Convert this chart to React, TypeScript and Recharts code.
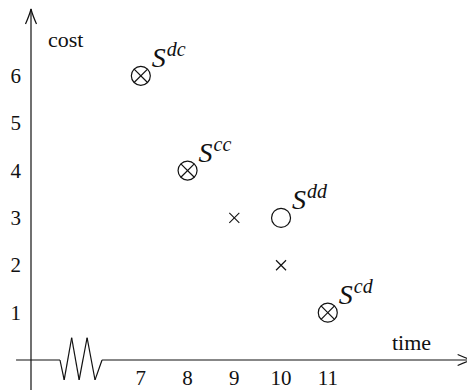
import React from "react"
import {
  ScatterChart,
  Scatter,
  XAxis,
  YAxis,
  ReferenceLine,
  Customized,
} from "recharts"

// labelled strategy points
const strategyTimes = [7, 8, 10, 11]
const strategyCosts = [6, 4, 3, 1]
const strategyNames = ["dc", "cc", "dd", "cd"]
const strategyMarks = ["otimes", "otimes", "circle", "otimes"]

// unlabelled points (crosses)
const crossTimes = [9, 10]
const crossCosts = [3, 2]

const xTicks = [7, 8, 9, 10, 11]
const yTicks = [1, 2, 3, 4, 5, 6]

const X_DOMAIN = [4.65, 14.15]
const Y_DOMAIN = [0, 7.6]

// x axis with a broken section (zigzag) near the origin
const xAxisPath: [number, number][] = [
  [4.33, 0],
  [5.27, 0],
  [5.36, -0.42],
  [5.52, 0.47],
  [5.68, -0.42],
  [5.85, 0.47],
  [6.02, -0.42],
  [6.17, 0],
  [14.1, 0],
]
const yAxisPath: [number, number][] = [
  [4.65, -0.64],
  [4.65, 7.41],
]

const INK = "#111"
const SERIF = "Liberation Serif"

// force the serif face on every svg text node of the chart
const fontRule = `.plot text, .plot tspan { font-family: "Liberation Serif" !important; }`

const strategyData = strategyTimes.map((t, i) => ({
  x: t,
  y: strategyCosts[i],
  sup: strategyNames[i],
  mark: strategyMarks[i],
}))
const crossData = crossTimes.map((t, i) => ({ x: t, y: crossCosts[i] }))

const R = 9.5

function StrategyMark(props: any) {
  const { cx, cy, payload } = props
  const d = R * 0.707
  return (
    <g>
      <circle cx={cx} cy={cy} r={R} fill="none" stroke={INK} strokeWidth={1.2} />
      {payload.mark === "otimes" && (
        <g stroke={INK} strokeWidth={1.2}>
          <line x1={cx - d} y1={cy - d} x2={cx + d} y2={cy + d} />
          <line x1={cx - d} y1={cy + d} x2={cx + d} y2={cy - d} />
        </g>
      )}
      <text
        x={cx + 11}
        y={cy - 9}
        fontFamily={SERIF}
        fontStyle="italic"
        fontSize={28}
        fill={INK}
        style={{ fontFamily: SERIF }}
      >
        S
        <tspan fontSize={20} dy={-11} dx={1}>
          {payload.sup}
        </tspan>
      </text>
    </g>
  )
}

function CrossMark(props: any) {
  const { cx, cy } = props
  const h = 5
  return (
    <g stroke={INK} strokeWidth={1.1}>
      <line x1={cx - h} y1={cy - h} x2={cx + h} y2={cy + h} />
      <line x1={cx - h} y1={cy + h} x2={cx + h} y2={cy - h} />
    </g>
  )
}

function XTick(props: any) {
  const { x, y, payload } = props
  return (
    <text x={x} y={y + 17} textAnchor="middle" fontFamily={SERIF} fontSize={21} fill={INK} style={{ fontFamily: SERIF }}>
      {payload.value}
    </text>
  )
}

function YTick(props: any) {
  const { x, y, payload } = props
  return (
    <text x={x} y={y + 7} textAnchor="end" fontFamily={SERIF} fontSize={21} fill={INK} style={{ fontFamily: SERIF }}>
      {payload.value}
    </text>
  )
}

function plainSegment(props: any) {
  const { x1, y1, x2, y2 } = props
  return <line x1={x1} y1={y1} x2={x2} y2={y2} stroke={INK} strokeWidth={1.2} />
}

function arrowSegment(props: any) {
  const { x1, y1, x2, y2 } = props
  const len = Math.hypot(x2 - x1, y2 - y1) || 1
  const ux = (x2 - x1) / len
  const uy = (y2 - y1) / len
  const nx = -uy
  const ny = ux
  const back = 15
  const half = 5.5
  const bx = x2 - ux * back
  const by = y2 - uy * back
  const cx1 = x2 - ux * 6 + nx * 1.5
  const cy1 = y2 - uy * 6 + ny * 1.5
  const cx2 = x2 - ux * 6 - nx * 1.5
  const cy2 = y2 - uy * 6 - ny * 1.5
  return (
    <g stroke={INK} strokeWidth={1.2} fill="none">
      <line x1={x1} y1={y1} x2={x2} y2={y2} />
      <path
        d={`M${bx + nx * half},${by + ny * half} Q${cx1},${cy1} ${x2},${y2} Q${cx2},${cy2} ${bx - nx * half},${by - ny * half}`}
      />
    </g>
  )
}

function AxisTitles() {
  return (
    <g>
      <text x={48} y={47} fontFamily={SERIF} fontSize={22} fill={INK} style={{ fontFamily: SERIF }}>
        cost
      </text>
      <text x={392} y={350} fontFamily={SERIF} fontSize={22} fill={INK} style={{ fontFamily: SERIF }}>
        time
      </text>
    </g>
  )
}

export default function App() {
  return (
    <div className="plot" style={{ margin: "-8px 0 0 -8px", width: 475, height: 390, fontFamily: SERIF }}>
      <style>{fontRule}</style>
      <ScatterChart
        width={475}
        height={390}
        margin={{ top: 0, right: 0, bottom: 0, left: 0 }}
        style={{ fontFamily: SERIF }}
      >
        <XAxis
          type="number"
          dataKey="x"
          domain={X_DOMAIN}
          ticks={xTicks}
          height={30}
          axisLine={false}
          tickLine={false}
          tick={<XTick />}
          allowDataOverflow
        />
        <YAxis
          type="number"
          dataKey="y"
          domain={Y_DOMAIN}
          ticks={yTicks}
          width={31}
          axisLine={false}
          tickLine={false}
          tickMargin={4}
          tick={<YTick />}
          allowDataOverflow
        />
        {xAxisPath.slice(1).map((p, i) => (
          <ReferenceLine
            key={`xa-${i}`}
            segment={[
              { x: xAxisPath[i][0], y: xAxisPath[i][1] },
              { x: p[0], y: p[1] },
            ]}
            ifOverflow="visible"
            shape={i === xAxisPath.length - 2 ? arrowSegment : plainSegment}
          />
        ))}
        <ReferenceLine
          segment={[
            { x: yAxisPath[0][0], y: yAxisPath[0][1] },
            { x: yAxisPath[1][0], y: yAxisPath[1][1] },
          ]}
          ifOverflow="visible"
          shape={arrowSegment}
        />
        <Scatter data={strategyData} shape={StrategyMark} isAnimationActive={false} />
        <Scatter data={crossData} shape={CrossMark} isAnimationActive={false} />
        <Customized component={AxisTitles} />
      </ScatterChart>
    </div>
  )
}
